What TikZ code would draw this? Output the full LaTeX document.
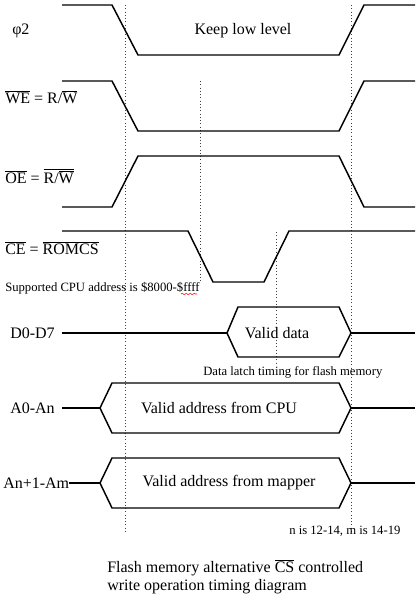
\documentclass[tikz,border=0pt]{standalone}
\usepackage{fontspec}
\setmainfont{Liberation Serif}
\usetikzlibrary{decorations.pathmorphing}
\begin{document}
\begin{tikzpicture}[x=0.75pt,y=-0.75pt,
  sig/.style={line width=1.1pt, black, line join=miter},
  guide/.style={dotted, line width=0.45pt, black!75},
  lbl/.style={font=\fontsize{12}{14}\selectfont, inner sep=0pt, anchor=west},
  txt/.style={font=\fontsize{12}{14}\selectfont, inner sep=0pt},
  small/.style={font=\fontsize{9.5}{11}\selectfont, inner sep=0pt, anchor=west},
  ]
\useasboundingbox[fill=white] (0,0) rectangle (420,602);
% guide lines
\coordinate (g1t) at (125,5);   \coordinate (g1b) at (125,532);
\coordinate (g2t) at (351,5);   \coordinate (g2b) at (351,533);
\coordinate (g3t) at (200,81);  \coordinate (g3b) at (200,282);
\coordinate (g4t) at (276,232); \coordinate (g4b) at (276,365);
\draw[guide] (g1t) -- (g1b);
\draw[guide] (g2t) -- (g2b);
\draw[guide] (g3t) -- (g3b);
\draw[guide] (g4t) -- (g4b);
% phi2
\node[lbl] (lphi) at (12,31) {φ2};
\draw[sig] (62,5) -- (112,5) -- (138,55) -- (339,55) -- (364,5) -- (415,5);
\node[txt] (keep) at (243,31) {Keep low level};
% WE
\node[lbl] (lwe) at (5,97) {$\overline{\mbox{WE}}$ = R/$\overline{\mbox{W}}$};
\draw[sig] (62,81) -- (112,81) -- (138,131) -- (339,131) -- (364,81) -- (415,81);
% OE
\node[lbl] (loe) at (5,176) {$\overline{\mbox{OE}}$ = $\overline{\mbox{R/$\overline{\mbox{W}}$}}$};
\draw[sig] (62,207) -- (112,207) -- (138,156) -- (339,156) -- (364,207) -- (415,207);
% CE
\node[lbl] (lce) at (5,248) {$\overline{\mbox{CE}}$ = $\overline{\mbox{ROMCS}}$};
\draw[sig] (62,231) -- (188,231) -- (213,282) -- (264,282) -- (289,231) -- (415,231);
\node[small] (sup) at (5,288) {Supported CPU address is \$8000-\$ffff};
\draw[red, line width=0.4pt, decorate, decoration={snake, amplitude=0.6pt, segment length=3pt}] (181,294) -- (197,294);
% D0-D7
\node[lbl] (ld) at (10,333) {D0-D7};
\draw[sig] (62,333) -- (227,333);
\draw[sig] (227,333) -- (238,307) -- (339,307) -- (351,333) -- (339,357) -- (238,357) -- cycle;
\draw[sig] (351,333) -- (415,333);
\node[txt] (vd) at (277,333) {Valid data};
\node[small] (latch) at (203,372) {Data latch timing for flash memory};
% A0-An
\node[lbl] (la) at (10,408) {A0-An};
\draw[sig] (62,408) -- (100,408);
\draw[sig] (100,408) -- (112,383) -- (339,383) -- (351,408) -- (339,433) -- (112,433) -- cycle;
\draw[sig] (351,408) -- (415,408);
\node[txt] (va) at (219,408) {Valid address from CPU};
% An+1-Am
\node[lbl] (lm) at (3,483) {An+1-Am};
\draw[sig] (lm.east) -- (100,483);
\draw[sig] (100,483) -- (112,458) -- (339,458) -- (351,483) -- (339,508) -- (112,508) -- cycle;
\draw[sig] (351,483) -- (415,483);
\node[txt] (vm) at (229,483) {Valid address from mapper};
\node[small] (nm) at (289,531) {n is 12-14, m is 14-19};
% caption
\node[lbl] (cap1) at (107,568) {Flash memory alternative $\overline{\mbox{CS}}$ controlled};
\node[lbl] (cap2) at (107,587) {write operation timing diagram};
\end{tikzpicture}
\end{document}
